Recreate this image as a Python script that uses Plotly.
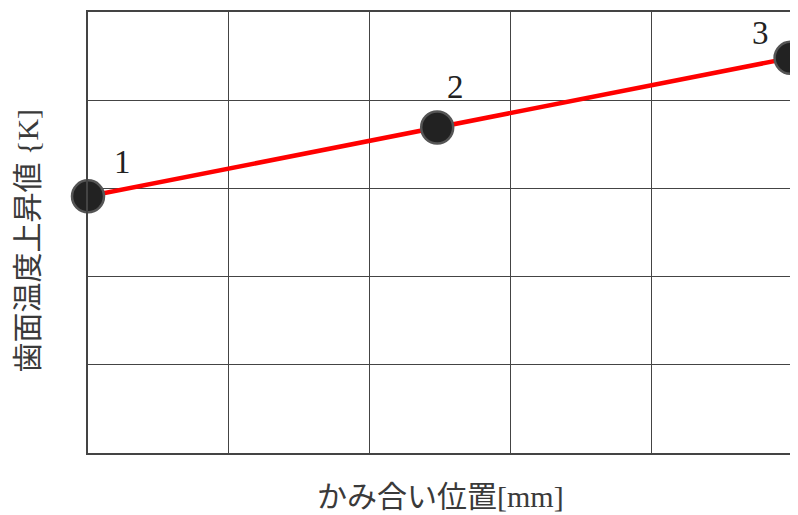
import plotly.graph_objects as go

# meshing position (grid units) and tooth surface temperature rise (grid units)
position = [0, 2.48, 4.99]
temp_rise = [2.91, 3.69, 4.48]
point_labels = ["1", "2", "3"]

x_title = "かみ合い位置[mm]"
y_title = "歯面温度上昇値 {K]"

label_shift = [(34, 34), (18, 41), (-30, 25)]

fig = go.Figure()
fig.add_trace(go.Scatter(
    x=position, y=temp_rise, mode="lines+markers",
    line=dict(color="#ff0000", width=4.5),
    marker=dict(size=32, color="#222222", line=dict(color="#555555", width=2.5)),
    cliponaxis=False, showlegend=False,
))

for xv, yv, t, (dx, dy) in zip(position, temp_rise, point_labels, label_shift):
    fig.add_annotation(x=xv, y=yv, text=t, showarrow=False, xshift=dx, yshift=dy,
                       font=dict(family="Liberation Serif", size=33, color="#222222"))

fig.add_annotation(x=0.5, y=-0.099, xref="paper", yref="paper", text=x_title,
                   showarrow=False, yanchor="middle",
                   font=dict(family="Liberation Serif, Noto Sans CJK JP", size=30, color="#3a3a3a"))
fig.add_annotation(x=-0.0866, y=0.482, xref="paper", yref="paper", text=y_title,
                   showarrow=False, textangle=-90, xanchor="center",
                   font=dict(family="Liberation Serif, Noto Sans CJK JP", size=30, color="#3a3a3a"))

axis = dict(showgrid=True, gridcolor="#444444", gridwidth=1, showticklabels=False,
            ticks="", zeroline=False, showline=True, linecolor="#444444", linewidth=1.5,
            mirror=True, range=[0, 5], dtick=1, fixedrange=True)
fig.update_xaxes(**axis)
fig.update_yaxes(**axis)

# the page body adds an 8px offset, so the figure is sized to leave room for it
fig.update_layout(
    width=790, height=507,
    margin=dict(l=80, r=6, t=2, b=62),
    plot_bgcolor="white", paper_bgcolor="white",
)

fig.write_html("out.html")
